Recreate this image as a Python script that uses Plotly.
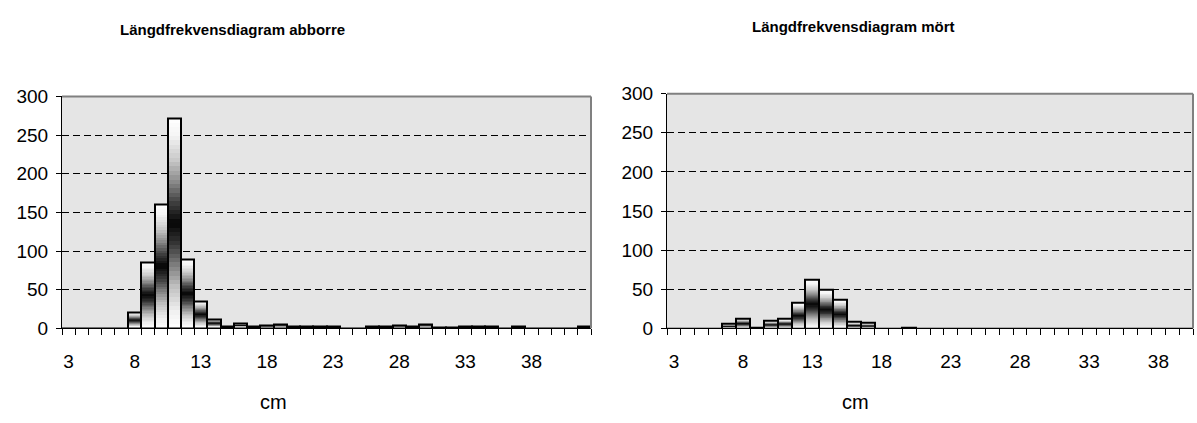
import numpy as np
import plotly.graph_objects as go

# ---- data ----
abborre_cm = [3, 4, 5, 6, 7, 8, 9, 10, 11, 12, 13, 14, 15, 16, 17, 18, 19, 20, 21, 22,
              23, 24, 25, 26, 27, 28, 29, 30, 31, 32, 33, 34, 35, 36, 37, 38, 39, 40, 41, 42]
abborre_n = [0, 0, 0, 0, 0, 20, 85, 160, 271, 89, 35, 12, 2, 6, 3, 4, 5, 3, 2, 2,
             3, 0, 0, 2, 2, 4, 2, 5, 1, 1, 2, 2, 2, 0, 3, 0, 0, 0, 0, 2]
mort_cm = [3, 4, 5, 6, 7, 8, 9, 10, 11, 12, 13, 14, 15, 16, 17, 18, 19, 20, 21, 22,
           23, 24, 25, 26, 27, 28, 29, 30, 31, 32, 33, 34, 35, 36, 37, 38, 39, 40]
mort_n = [0, 0, 0, 0, 6, 13, 1, 10, 12, 33, 62, 49, 37, 8, 7, 0, 0, 1, 0, 0,
          0, 0, 0, 0, 0, 0, 0, 0, 0, 0, 0, 0, 0, 0, 0, 0, 0, 0]
tick_labels = [3, 8, 13, 18, 23, 28, 33, 38]
titles = ["Längdfrekvensdiagram abborre", "Längdfrekvensdiagram mört"]
x_title = "cm"

W, H = 1197, 423
FONT = "Arial, Liberation Sans, sans-serif"

# gradient (fraction from top -> grey level): white - black - white
g_pos = [0.0, 0.08, 0.2, 0.3, 0.4, 0.5, 0.6, 0.7, 0.8, 0.92, 1.0]
g_val = [255, 245, 200, 140, 65, 5, 55, 125, 190, 240, 255]
N = 48

fig = go.Figure()


def add_hist(xs, ys, xa, ya):
    for k in range(N - 1, -1, -1):
        t = 1 - (k + 0.5) / N
        g = int(round(np.interp(t, g_pos, g_val)))
        fig.add_trace(go.Bar(
            x=xs, y=[v * (k + 1) / N for v in ys], width=1,
            marker=dict(color=f"rgb({g},{g},{g})", line=dict(width=0)),
            xaxis=xa, yaxis=ya, showlegend=False, hoverinfo="skip"))
    fig.add_trace(go.Bar(
        x=xs, y=ys, width=1,
        marker=dict(color="rgba(0,0,0,0)", line=dict(color="black", width=2)),
        xaxis=xa, yaxis=ya, showlegend=False))


add_hist(abborre_cm, abborre_n, "x", "y")
add_hist(mort_cm, mort_n, "x2", "y2")


def xaxis(dom, cats, anchor):
    return dict(domain=dom, range=[cats[0] - 0.5, cats[-1] + 0.5], anchor=anchor,
                tickmode="array", tickvals=tick_labels, ticktext=[str(t) for t in tick_labels],
                ticks="outside", ticklen=6, tickcolor="rgba(0,0,0,0)", ticklabelstandoff=10,
                showline=True, linecolor="black", linewidth=1, showgrid=False, zeroline=False,
                minor=dict(tickmode="linear", tick0=cats[0] - 0.5, dtick=1, ticks="outside",
                           ticklen=6, tickcolor="black", tickwidth=1, showgrid=False),
                tickfont=dict(family=FONT, size=19, color="black"), fixedrange=True)


def yaxis(dom, anchor):
    return dict(domain=dom, range=[0, 300], anchor=anchor, tickmode="linear", tick0=0, dtick=50,
                ticks="outside", ticklen=5, tickcolor="black", ticklabelstandoff=4,
                showline=True, linecolor="black", linewidth=1, zeroline=False,
                showgrid=True, gridcolor="black", gridwidth=1, griddash="7px,4px",
                tickfont=dict(family=FONT, size=19, color="black"), fixedrange=True)


fig.update_layout(
    width=W, height=H, margin=dict(l=0, r=0, t=0, b=0),
    paper_bgcolor="white", plot_bgcolor="#e5e5e5",
    barmode="overlay", bargap=0,
    xaxis=xaxis([62 / W, 591 / W], abborre_cm, "y"),
    yaxis=yaxis([(H - 335) / H, (H - 91) / H], "x"),
    xaxis2=xaxis([667 / W, 1193 / W], mort_cm, "y2"),
    yaxis2=yaxis([(H - 335) / H, (H - 88) / H], "x2"),
    font=dict(family=FONT, color="black"),
)

shapes = []
for xr, yr in (("x domain", "y domain"), ("x2 domain", "y2 domain")):
    shapes.append(dict(type="line", xref=xr, yref=yr, x0=0, x1=1, y0=1, y1=1,
                       line=dict(color="#808080", width=2), layer="above"))
    shapes.append(dict(type="line", xref=xr, yref=yr, x0=1, x1=1, y0=0, y1=1,
                       line=dict(color="#808080", width=2), layer="above"))
fig.update_layout(shapes=shapes)

ann = []
for txt, xc, yc in ((titles[0], 232, 21), (titles[1], 853, 17)):
    ann.append(dict(text=f"<b>{txt}</b>", x=xc / W, y=1 - yc / H, xref="paper", yref="paper",
                    showarrow=False, xanchor="center", yanchor="middle",
                    font=dict(family=FONT, size=15, color="black")))
for xc in (273, 855):
    ann.append(dict(text=x_title, x=xc / W, y=1 - 413 / H, xref="paper", yref="paper",
                    showarrow=False, xanchor="center", yanchor="middle",
                    font=dict(family=FONT, size=20, color="black")))
fig.update_layout(annotations=ann)

fig.write_html("out.html")
